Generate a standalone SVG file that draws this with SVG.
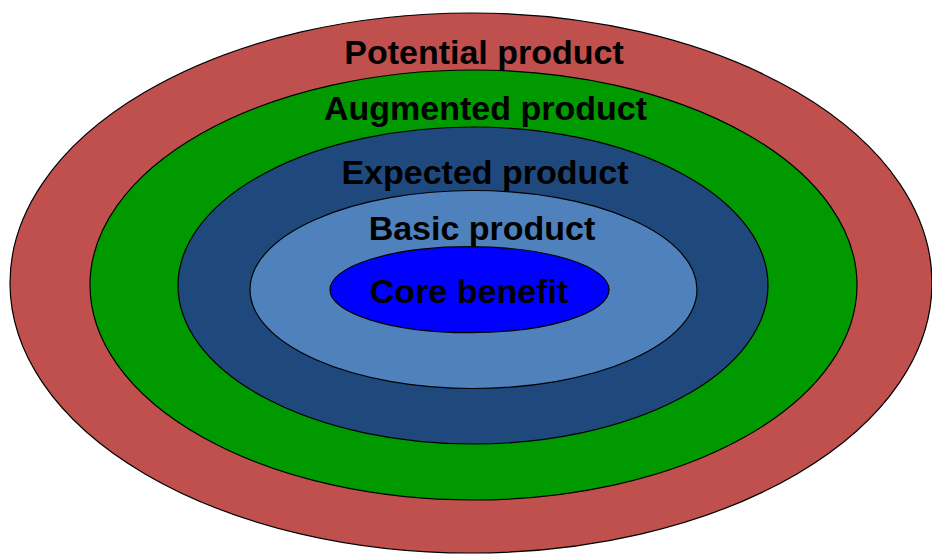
<svg xmlns="http://www.w3.org/2000/svg" width="932" height="554" viewBox="0 0 932 554">
<style>
ellipse{stroke:#000;stroke-width:1.2}
text{font-family:"Liberation Sans",Arial,sans-serif;font-weight:bold;font-size:34px;fill:#000;text-anchor:middle}
</style>
<rect width="932" height="554" fill="#fff"/>
<g id="potential"><ellipse cx="471" cy="283" rx="461" ry="270" fill="#C0504D"/><text x="484" y="64">Potential product</text></g>
<g id="augmented"><ellipse cx="473.5" cy="285" rx="383.5" ry="215" fill="#009900"/><text x="485.5" y="120">Augmented product</text></g>
<g id="expected"><ellipse cx="473" cy="285.5" rx="295" ry="158.5" fill="#1F497D"/><text x="485" y="184">Expected product</text></g>
<g id="basic"><ellipse cx="473.5" cy="289.5" rx="223.5" ry="99" fill="#4F81BD"/><text x="482" y="240">Basic product</text></g>
<g id="core"><ellipse cx="469.5" cy="289.7" rx="139.5" ry="43" fill="#0000FF"/><text x="469" y="303">Core benefit</text></g>
<g id="connectors"/>
</svg>
